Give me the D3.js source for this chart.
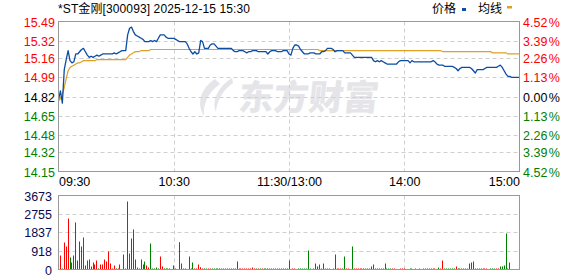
<!DOCTYPE html>
<html><head><meta charset="utf-8">
<script src="https://cdn.jsdelivr.net/npm/d3@7"></script>
<style>
html,body{margin:0;padding:0;background:#fff;}
svg{display:block;}
text{font-family:"Liberation Sans",Arial,"Noto Sans CJK SC",sans-serif;font-size:12px;}
</style></head>
<body>
<svg id="c" width="578" height="276"></svg>
<script>
const titleText = "*ST金刚[300093] 2025-12-15 15:30";
const preClose = 14.82;
const priceTicks = [15.49, 15.32, 15.16, 14.99, 14.82, 14.65, 14.48, 14.32, 14.15];
const pctLabels = ["4.52", "3.39", "2.26", "1.13", "0.00", "1.13", "2.26", "3.39", "4.52"];
const volTicks = [0, 918, 1837, 2755, 3673];
const timeTicks = [0, 60, 120, 180, 240];
const timeLabels = ["09:30", "10:30", "11:30/13:00", "14:00", "15:00"];
const legendNames = ["价格", "均线"];

const price = [
14.79,14.87,14.76,15.06,15.15,15.23,15.14,15.12,15.13,15.20,
15.20,15.22,15.24,15.25,15.22,15.19,15.17,15.18,15.17,15.18,
15.19,15.18,15.19,15.20,15.20,15.20,15.20,15.20,15.20,15.21,
15.20,15.21,15.22,15.23,15.23,15.23,15.37,15.43,15.44,15.40,
15.37,15.36,15.35,15.34,15.33,15.31,15.31,15.31,15.32,15.31,
15.32,15.31,15.34,15.37,15.37,15.37,15.35,15.34,15.34,15.34,
15.34,15.33,15.32,15.31,15.31,15.31,15.31,15.29,15.25,15.22,
15.20,15.22,15.20,15.21,15.32,15.31,15.25,15.25,15.25,15.28,
15.29,15.29,15.27,15.25,15.25,15.25,15.25,15.25,15.25,15.25,
15.25,15.23,15.22,15.22,15.23,15.23,15.23,15.22,15.21,15.22,
15.22,15.23,15.23,15.23,15.22,15.22,15.22,15.22,15.22,15.20,
15.22,15.23,15.23,15.23,15.22,15.22,15.22,15.23,15.23,15.23,
15.20,15.19,15.25,15.28,15.28,15.27,15.24,15.22,15.20,15.20,
15.20,15.21,15.21,15.21,15.20,15.20,15.20,15.22,15.22,15.23,
15.25,15.25,15.25,15.24,15.22,15.23,15.23,15.23,15.23,15.21,
15.21,15.21,15.21,15.19,15.17,15.17,15.17,15.17,15.17,15.17,
15.17,15.17,15.17,15.17,15.14,15.13,15.14,15.13,15.14,15.13,
15.12,15.11,15.11,15.11,15.11,15.11,15.11,15.13,15.14,15.14,
15.14,15.14,15.14,15.12,15.14,15.13,15.13,15.13,15.13,15.13,
15.13,15.13,15.13,15.13,15.13,15.14,15.13,15.11,15.10,15.10,
15.10,15.09,15.09,15.09,15.09,15.09,15.08,15.07,15.05,15.07,
15.08,15.08,15.08,15.08,15.08,15.07,15.05,15.03,15.06,15.06,
15.06,15.06,15.07,15.08,15.08,15.08,15.08,15.08,15.08,15.09,
15.10,15.08,15.05,15.02,15.00,15.00,14.99,14.99,14.99,14.99,
14.99];

const avgPrice = [
14.78,14.80,14.84,14.90,14.98,15.05,15.08,15.09,15.10,15.11,
15.12,15.12,15.13,15.14,15.14,15.14,15.14,15.14,15.14,15.14,
15.15,15.15,15.15,15.15,15.15,15.15,15.15,15.15,15.15,15.15,
15.15,15.15,15.15,15.15,15.15,15.15,15.17,15.19,15.20,15.21,
15.22,15.22,15.22,15.23,15.23,15.23,15.23,15.23,15.24,15.24,
15.24,15.24,15.24,15.24,15.24,15.24,15.24,15.24,15.24,15.24,
15.24,15.24,15.24,15.24,15.24,15.24,15.24,15.24,15.24,15.24,
15.24,15.24,15.24,15.24,15.24,15.24,15.24,15.24,15.24,15.24,
15.24,15.24,15.24,15.24,15.24,15.24,15.24,15.24,15.24,15.24,
15.24,15.24,15.24,15.24,15.24,15.24,15.24,15.24,15.24,15.24,
15.24,15.24,15.24,15.24,15.24,15.24,15.24,15.24,15.24,15.24,
15.24,15.24,15.24,15.24,15.24,15.24,15.24,15.24,15.24,15.24,
15.24,15.24,15.24,15.24,15.24,15.24,15.24,15.24,15.24,15.24,
15.24,15.24,15.24,15.24,15.24,15.24,15.23,15.23,15.23,15.23,
15.23,15.23,15.23,15.23,15.23,15.23,15.23,15.23,15.23,15.23,
15.23,15.23,15.23,15.23,15.23,15.23,15.23,15.23,15.23,15.23,
15.23,15.23,15.23,15.23,15.23,15.23,15.23,15.23,15.23,15.23,
15.23,15.23,15.23,15.23,15.23,15.23,15.23,15.23,15.23,15.23,
15.23,15.23,15.23,15.23,15.23,15.23,15.23,15.23,15.23,15.23,
15.23,15.23,15.23,15.23,15.23,15.23,15.23,15.23,15.23,15.23,
15.22,15.22,15.22,15.22,15.22,15.22,15.22,15.22,15.22,15.22,
15.22,15.22,15.22,15.22,15.22,15.22,15.22,15.22,15.22,15.22,
15.22,15.22,15.22,15.22,15.22,15.22,15.21,15.21,15.21,15.21,
15.21,15.21,15.21,15.21,15.20,15.20,15.20,15.20,15.20,15.20,
15.20];

const volume = [
0,695,50,1340,1142,2532,596,348,695,2334,
447,1390,1142,1589,199,447,497,149,348,248,
447,50,248,248,497,397,894,298,50,199,
50,50,248,0,745,50,3376,794,1539,1986,
497,99,50,497,248,397,199,99,1291,50,
50,99,50,645,149,50,50,50,50,0,
199,50,0,1357,298,50,50,0,645,50,
348,50,50,248,116,50,50,50,50,50,
50,50,50,50,50,50,50,50,50,50,
50,50,50,397,50,50,50,50,50,50,
50,99,50,50,50,50,50,50,50,50,
50,50,50,50,50,50,50,50,50,50,
447,0,50,50,0,50,50,50,50,50,
943,50,0,50,298,149,248,50,298,50,
50,50,0,50,745,50,50,50,50,645,
50,50,0,1142,50,50,50,50,50,50,
50,50,50,149,248,50,50,50,50,50,
298,50,50,50,50,50,0,0,50,50,
50,0,0,50,50,0,50,0,50,0,
50,50,50,50,50,50,50,0,99,50,
447,50,50,50,50,50,50,149,50,50,
50,50,50,50,298,348,397,50,50,50,
50,50,50,50,0,50,50,50,50,50,
149,149,199,1787,50,348,0,0,0,0,
149];

// 1 = up (red), -1 = down (green)
const volDir = [
1,1,-1,1,1,1,-1,1,-1,1,
1,-1,1,1,-1,-1,-1,1,1,1,
1,-1,1,1,1,1,1,1,1,1,
-1,1,1,1,1,-1,1,1,-1,-1,
-1,1,-1,-1,1,-1,1,1,-1,-1,
-1,-1,-1,1,1,-1,-1,-1,-1,-1,
-1,-1,-1,-1,1,1,1,1,-1,-1,
-1,1,1,1,1,1,-1,-1,1,1,
-1,-1,-1,-1,-1,-1,-1,-1,-1,-1,
-1,-1,-1,-1,1,1,1,1,1,1,
1,1,1,-1,1,-1,1,-1,1,-1,
1,-1,1,1,-1,1,1,-1,1,-1,
-1,1,1,1,-1,-1,-1,-1,-1,-1,
-1,-1,-1,-1,1,-1,1,-1,1,1,
1,1,-1,-1,-1,1,1,1,-1,-1,
1,1,1,-1,1,1,1,1,1,1,
1,1,1,-1,-1,-1,-1,-1,-1,-1,
-1,-1,-1,-1,1,1,1,1,1,1,
1,1,1,-1,1,-1,-1,1,1,1,
1,1,1,1,1,1,1,-1,-1,1,
1,-1,-1,-1,-1,-1,-1,1,-1,-1,
1,-1,1,-1,1,1,-1,-1,1,1,
1,1,1,1,1,-1,-1,-1,1,1,
-1,-1,-1,-1,-1,1,1,1,1,1,
1];

const svg = d3.select("#c");
const L = 58.5, R = 519.5, T = 21.5, B = 171.5, VT = 195.5, VB = 269.5;
const RED = "#ff0000", GREEN = "#008000", NAVY = "#0a0a50";

const x = d3.scaleLinear().domain([0, 240]).range([L, R]);
const y = d3.scaleLinear().domain([14.15, 15.49]).range([B, T]);
const yv = d3.scaleLinear().domain([0, 3673]).range([VB, VT]);

// watermark
const wm = svg.append("g").attr("fill", "#e5e5e9");
wm.append("path").attr("d", "M215,79 C201,88 196,103 204,116 C203,104 208,92 220,84 Z");
wm.append("path").attr("d", "M232,78 C219,86 211,100 216,112 C217,100 223,90 233,83 Z");
wm.append("text").attr("x", 238).attr("y", 110)
  .attr("transform", "skewX(-6) translate(11,0)")
  .style("font-family", "'Noto Sans CJK SC'").style("font-size", "35px").style("font-weight", "900")
  .text("东方财富");

// gridlines
const grid = svg.append("g").attr("stroke", "#cfcfcf").attr("stroke-dasharray", "4,3").attr("stroke-width", 1);
priceTicks.slice(1, -1).forEach(v => {
  const yy = Math.round(y(v)) + 0.5;
  grid.append("line").attr("x1", L).attr("x2", R).attr("y1", yy).attr("y2", yy);
});
volTicks.slice(1, -1).forEach(v => {
  const yy = Math.round(yv(v)) + 0.5;
  grid.append("line").attr("x1", L).attr("x2", R).attr("y1", yy).attr("y2", yy);
});
timeTicks.slice(1, -1).forEach(t => {
  const xx = Math.round(x(t)) + 0.5;
  grid.append("line").attr("x1", xx).attr("x2", xx).attr("y1", T).attr("y2", B);
  grid.append("line").attr("x1", xx).attr("x2", xx).attr("y1", VT).attr("y2", VB);
});

// volume bars
svg.append("g").selectAll("rect").data(volume).join("rect")
  .attr("x", (d, i) => Math.floor(x(i)))
  .attr("width", 1)
  .attr("y", d => yv(d))
  .attr("height", d => VB - yv(d))
  .attr("fill", (d, i) => volDir[i] > 0 ? RED : GREEN);

// lines
const line = d3.line().x((d, i) => x(i)).y(d => y(d));
svg.append("path").datum(avgPrice).attr("d", line)
  .attr("fill", "none").attr("stroke", "#dea126").attr("stroke-width", 1.2);
svg.append("path").datum(price).attr("d", line)
  .attr("fill", "none").attr("stroke", "#0c4da2").attr("stroke-width", 1.3).attr("stroke-linejoin", "round");

// frames
svg.append("rect").attr("x", L).attr("y", T).attr("width", R - L).attr("height", B - T)
  .attr("fill", "none").attr("stroke", "#999");
svg.append("rect").attr("x", L).attr("y", VT).attr("width", R - L).attr("height", VB - VT)
  .attr("fill", "none").attr("stroke", "#999");

// axes
const colorFor = v => v > preClose + 1e-9 ? RED : (v < preClose - 1e-9 ? GREEN : "#000");
const ax1 = svg.append("g").attr("transform", `translate(${L},0)`)
  .call(d3.axisLeft(y).tickValues(priceTicks).tickSize(0).tickPadding(3.5).tickFormat(d => d.toFixed(2)));
ax1.select(".domain").remove();
ax1.selectAll("text").attr("fill", d => colorFor(d)).style("font-size", "12.5px").attr("dy", "0.36em");

const ax2 = svg.append("g").attr("transform", `translate(${R},0)`)
  .call(d3.axisRight(y).tickValues(priceTicks).tickSize(0).tickPadding(3.5).tickFormat((d, i) => pctLabels[i]));
ax2.select(".domain").remove();
ax2.selectAll("text").each(function(d, i) {
  const t = d3.select(this);
  t.attr("fill", colorFor(d)).style("font-size", "12.5px").attr("dy", "0.36em");
  t.append("tspan").attr("dx", 1.5).text("%");
});

const ax3 = svg.append("g").attr("transform", `translate(0,${B})`)
  .call(d3.axisBottom(x).tickValues(timeTicks).tickSize(0).tickPadding(6).tickFormat((d, i) => timeLabels[i]));
ax3.select(".domain").remove();
ax3.selectAll("text").attr("fill", "#000").style("font-size", "12.5px")
  .attr("text-anchor", (d, i) => i === 0 ? "start" : (i === timeTicks.length - 1 ? "end" : "middle"));

const ax4 = svg.append("g").attr("transform", `translate(${L},0)`)
  .call(d3.axisLeft(yv).tickValues(volTicks).tickSize(0).tickPadding(6.5).tickFormat(d => String(d)));
ax4.select(".domain").remove();
ax4.selectAll("text").attr("fill", NAVY).style("font-size", "12.5px").attr("dy", "0.36em");

// title & legend
svg.append("text").attr("x", 58).attr("y", 13).attr("fill", "#000")
  .attr("textLength", 192).attr("lengthAdjust", "spacing").text(titleText);
svg.append("text").attr("x", 432).attr("y", 13).attr("fill", "#000").text(legendNames[0]);
svg.append("rect").attr("x", 462).attr("y", 8).attr("width", 4).attr("height", 3).attr("fill", "#0c4da2");
svg.append("text").attr("x", 478).attr("y", 13).attr("fill", "#000").text(legendNames[1]);
svg.append("rect").attr("x", 507).attr("y", 6).attr("width", 5).attr("height", 2.5).attr("fill", "#dea126");
</script>
</body></html>
